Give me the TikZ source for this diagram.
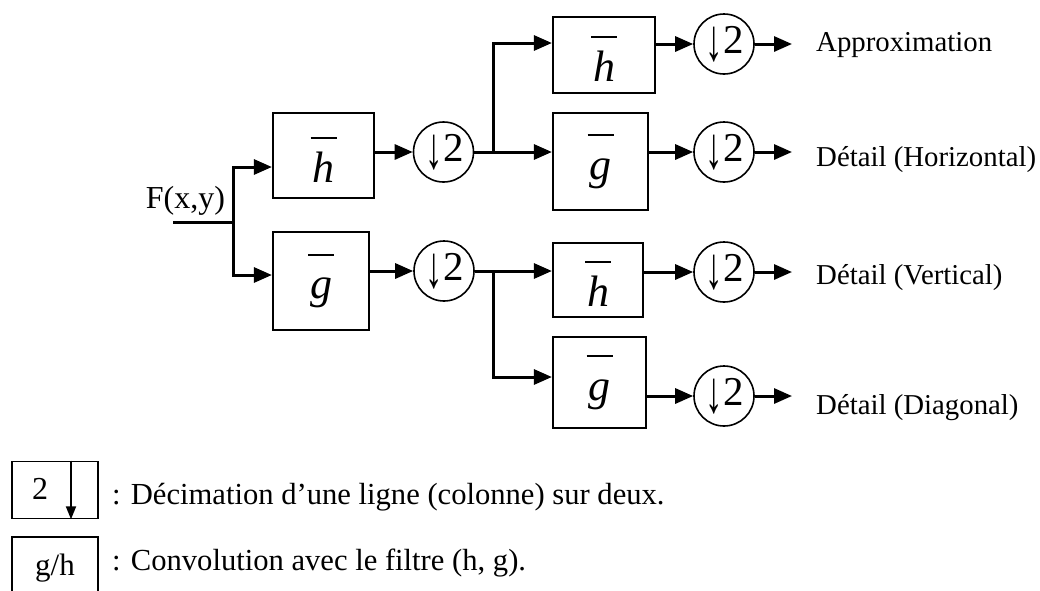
\documentclass[tikz,border=0pt]{standalone}
\usepackage{fontspec}
\usepackage{graphicx}
\setmainfont{Liberation Serif}
\usetikzlibrary{arrows.meta}

% filter symbol: italic letter with a bar well above it (#1 = room above the bar)
\newcommand\barred[2]{\vbox{\offinterlineskip
  \vskip #1
  \hbox to 26pt{\hss\rule{26pt}{2.2pt}\hss}\vskip 13pt
  \hbox to 26pt{\hss\rule{0pt}{30pt}\textit{#2}\hss}}}
% down-sampling symbol
\newcommand\dsym{\kern2pt\raisebox{-7pt}{\scalebox{0.85}[1.45]{↓}}\kern0.5pt 2}

\tikzset{
  filt/.style={draw, line width=2.2pt, inner sep=0pt,
    font=\fontsize{44}{46}\selectfont},
  dec/.style={draw, circle, line width=1.6pt, minimum size=60pt, inner sep=0pt,
    font=\fontsize{41}{42}\selectfont},
  conn/.style={line width=3pt, -{Triangle[length=18pt,width=15pt]}},
  wire/.style={line width=3pt},
  lbl/.style={anchor=west, inner sep=0pt, font=\fontsize{28.8}{32}\selectfont},
  legtext/.style={anchor=west, inner sep=0pt, font=\fontsize{30.6}{33}\selectfont},
  legbox/.style={draw, line width=1.6pt, inner sep=0pt, minimum width=86pt}
}

\begin{document}
\begin{tikzpicture}[x=1pt, y=-1pt]
\useasboundingbox (0,0) rectangle (1040,590);
\clip (0,0) rectangle (1040,590);
\fill[white] (0,0) rectangle (1040,590);

% input
\node[inner sep=0pt, font=\fontsize{32}{34}\selectfont] (F) at (185.5,201) {F(x,y)};
\coordinate (in) at (173,222);
\coordinate (j0) at (233,222);

% first level
\node[filt, minimum width=101pt, minimum height=85pt] (h1) at (323.5,155.5) {\barred{8pt}{h}};
\node[filt, minimum width=96pt, minimum height=98pt] (g1) at (321,281) {\barred{0pt}{g}};
\node[dec] (c1a) at (443.5,152) {\dsym};
\node[dec] (c1b) at (444,271) {\dsym};
\coordinate (j1) at (493,152);
\coordinate (j2) at (493,271);

% second level
\node[filt, minimum width=102pt, minimum height=76pt] (hA) at (604,55) {\barred{8pt}{h}};
\node[filt, minimum width=95pt, minimum height=97pt] (gA) at (600.5,161.5) {\barred{0pt}{g}};
\node[filt, minimum width=90pt, minimum height=74pt] (hB) at (598,280) {\barred{8pt}{h}};
\node[filt, minimum width=93pt, minimum height=91pt] (gB) at (599.5,382.5) {\barred{0pt}{g}};

\node[dec] (cA) at (724,44) {\dsym};
\node[dec] (cB) at (724,152) {\dsym};
\node[dec] (cC) at (724,272) {\dsym};
\node[dec] (cD) at (724,396) {\dsym};

\coordinate (oA) at (792,44);
\coordinate (oB) at (792,152);
\coordinate (oC) at (792,272);
\coordinate (oD) at (792,396);

\node[lbl] (lA) at (816,45) {Approximation};
\node[lbl] (lB) at (816,160) {Détail (Horizontal)};
\node[lbl] (lC) at (816,278) {Détail (Vertical)};
\node[lbl] (lD) at (816,408) {Détail (Diagonal)};

% connectors, first level
\draw[wire] (in) -- (j0);
\draw[conn] (j0) |- ([yshift=-11.5pt]h1.west);
\draw[conn] (j0) |- ([yshift=6pt]g1.west);
\draw[conn] (h1.east |- c1a) -- (c1a.west);
\draw[conn] (g1.east |- c1b) -- (c1b.west);

% connectors, second level
\draw[wire] (c1a.east) -- (j1);
\draw[conn] (j1) |- ([yshift=12pt]hA.west);
\draw[conn] (j1) -- (gA.west |- j1);
\draw[wire] (c1b.east) -- (j2);
\draw[conn] (j2) -- (hB.west |- j2);
\draw[conn] (j2) |- ([yshift=5.5pt]gB.west);

\draw[conn] (hA.east |- cA) -- (cA.west);
\draw[conn] (gA.east |- cB) -- (cB.west);
\draw[conn] (hB.east |- cC) -- (cC.west);
\draw[conn] (gB.east |- cD) -- (cD.west);

\draw[conn] (cA.east) -- (oA);
\draw[conn] (cB.east) -- (oB);
\draw[conn] (cC.east) -- (oC);
\draw[conn] (cD.east) -- (oD);

% legend
\node[legbox, minimum height=57pt] (k1) at (55,490) {};
\node[inner sep=0pt, font=\fontsize{32}{33}\selectfont] (k1t) at (40,489) {2};
\draw[line width=2pt, -{Triangle[length=13pt,width=10pt]}]
  ([xshift=16pt]k1.north) -- ([xshift=16pt]k1.south);
\node[legbox, minimum height=62pt, font=\fontsize{31}{32}\selectfont] (k2) at (55,568) {g/h};

\node[legtext] (t1) at (112,497) {: Décimation d’une ligne (colonne) sur deux.};
\node[legtext] (t2) at (112,563) {: Convolution avec le filtre (h, g).};
\end{tikzpicture}
\end{document}
